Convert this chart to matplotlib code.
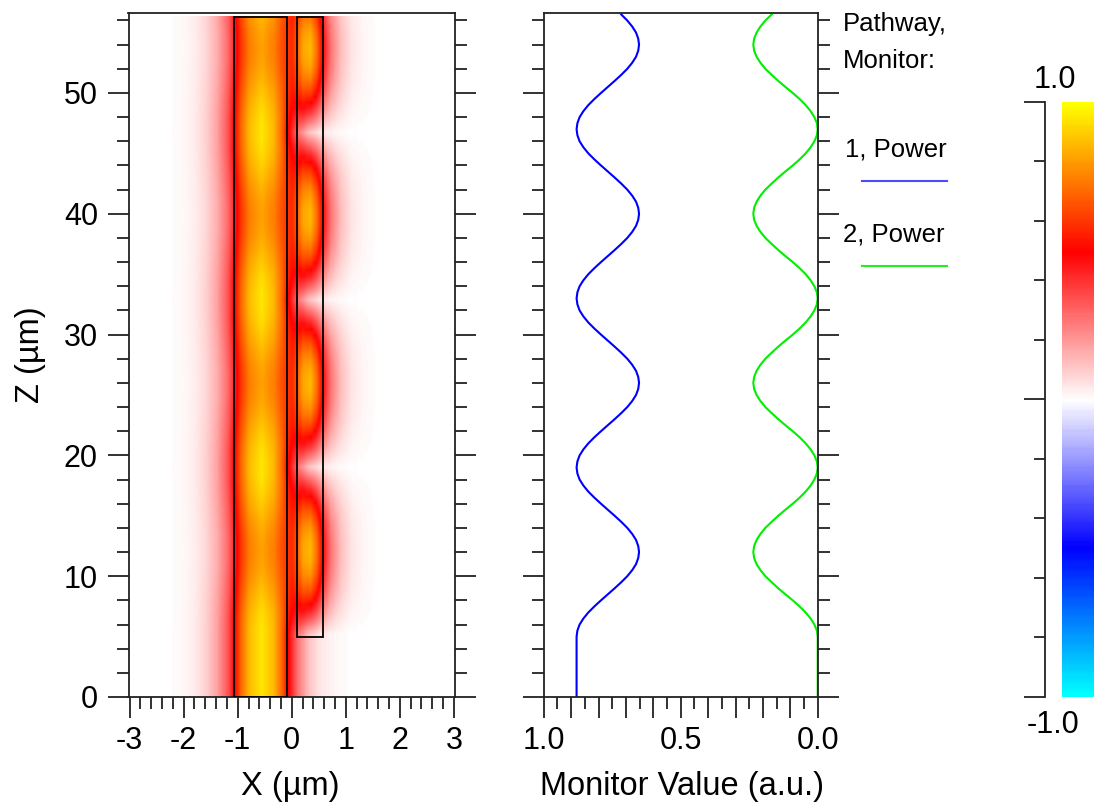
import numpy as np
import matplotlib
matplotlib.use("Agg")
import matplotlib.pyplot as plt
from matplotlib.colors import LinearSegmentedColormap
from matplotlib.ticker import MultipleLocator, FuncFormatter
from matplotlib.patches import Rectangle

plt.rcParams['font.family'] = ['Liberation Sans', 'DejaVu Sans']

# ---------------- data ----------------
# propagation positions (um), 0.5 um sampling
z_um = np.arange(0.0, 56.75, 0.5)

# Pathway 1 monitor (power in the lower/left guide)
monitor1_power = [
    0.880, 0.880, 0.880, 0.880, 0.880, 0.880, 0.880, 0.880, 0.880, 0.880,
    0.880, 0.877, 0.869, 0.855, 0.837, 0.815, 0.791, 0.766, 0.741, 0.717,
    0.695, 0.677, 0.663, 0.655, 0.652, 0.655, 0.663, 0.677, 0.695, 0.717,
    0.741, 0.766, 0.791, 0.815, 0.837, 0.855, 0.869, 0.877,
    0.880, 0.877, 0.869, 0.855, 0.837, 0.815, 0.791, 0.766, 0.741, 0.717,
    0.695, 0.677, 0.663, 0.655, 0.652, 0.655, 0.663, 0.677, 0.695, 0.717,
    0.741, 0.766, 0.791, 0.815, 0.837, 0.855, 0.869, 0.877,
    0.880, 0.877, 0.869, 0.855, 0.837, 0.815, 0.791, 0.766, 0.741, 0.717,
    0.695, 0.677, 0.663, 0.655, 0.652, 0.655, 0.663, 0.677, 0.695, 0.717,
    0.741, 0.766, 0.791, 0.815, 0.837, 0.855, 0.869, 0.877,
    0.880, 0.877, 0.869, 0.855, 0.837, 0.815, 0.791, 0.766, 0.741, 0.717,
    0.695, 0.677, 0.663, 0.655, 0.652, 0.655, 0.663, 0.677, 0.695, 0.717,
]

# Pathway 2 monitor (power in the coupled guide)
monitor2_power = [
    0.000, 0.000, 0.000, 0.000, 0.000, 0.000, 0.000, 0.000, 0.000, 0.000,
    0.000, 0.003, 0.012, 0.026, 0.044, 0.066, 0.091, 0.118, 0.144, 0.168,
    0.191, 0.209, 0.223, 0.232, 0.235, 0.232, 0.223, 0.209, 0.191, 0.168,
    0.144, 0.118, 0.091, 0.066, 0.044, 0.026, 0.012, 0.003,
    0.000, 0.003, 0.012, 0.026, 0.044, 0.066, 0.091, 0.118, 0.144, 0.168,
    0.191, 0.209, 0.223, 0.232, 0.235, 0.232, 0.223, 0.209, 0.191, 0.168,
    0.144, 0.118, 0.091, 0.066, 0.044, 0.026, 0.012, 0.003,
    0.000, 0.003, 0.012, 0.026, 0.044, 0.066, 0.091, 0.118, 0.144, 0.168,
    0.191, 0.209, 0.223, 0.232, 0.235, 0.232, 0.223, 0.209, 0.191, 0.168,
    0.144, 0.118, 0.091, 0.066, 0.044, 0.026, 0.012, 0.003,
    0.000, 0.003, 0.012, 0.026, 0.044, 0.066, 0.091, 0.118, 0.144, 0.168,
    0.191, 0.209, 0.223, 0.232, 0.235, 0.232, 0.223, 0.209, 0.191, 0.168,
]

# transverse field profiles of each guide
profile1_x = [-2.3, -2.0, -1.8, -1.6, -1.4, -1.2, -1.07, -0.95, -0.8, -0.57,
              -0.35, -0.2, -0.08, 0.1, 0.3, 0.5, 0.8, 1.1]
profile1_v = [0.0, 0.015, 0.04, 0.09, 0.18, 0.33, 0.50, 0.70, 0.86, 0.95,
              0.86, 0.70, 0.50, 0.27, 0.12, 0.05, 0.015, 0.0]
profile2_x = [-0.4, -0.2, 0.0, 0.09, 0.2, 0.33, 0.45, 0.57, 0.7, 0.9,
              1.1, 1.3, 1.5, 1.7]
profile2_v = [0.0, 0.05, 0.24, 0.44, 0.66, 0.77, 0.66, 0.44, 0.26, 0.12,
              0.05, 0.02, 0.005, 0.0]

# waveguide outlines: (x_left, x_right, z_start, z_end)
guide1 = (-1.07, -0.08, 0.0, 56.3)
guide2 = (0.09, 0.57, 5.0, 56.3)

legend_labels = ["Pathway,", "Monitor:", "1, Power", "2, Power"]
xticks_left = [-3, -2, -1, 0, 1, 2, 3]
cbar_labels = ["1.0", "-1.0"]

# ---------------- figure ----------------
W, H = 1094, 808
fig = plt.figure(figsize=(W / 100, H / 100), dpi=100)


def px_rect(x0, y0, x1, y1):
    return [x0 / W, 1 - y1 / H, (x1 - x0) / W, (y1 - y0) / H]


ZMAX = 56.62
spine_c = '#222222'
TICK_FS = 22

cmap = LinearSegmentedColormap.from_list(
    'field', [(0.0, '#00ffff'), (0.25, '#0000ff'), (0.5, '#ffffff'),
              (0.75, '#ff0000'), (1.0, '#ffff00')], N=255)

# ---- left panel: field map ----
ax1 = fig.add_axes(px_rect(128.5, 13, 455, 697))
x_grid = np.linspace(-3.02, 3.02, 500)
a1 = np.sqrt(np.array(monitor1_power) / max(monitor1_power))
a2 = np.sqrt(np.array(monitor2_power) / max(monitor2_power))
u1 = np.interp(x_grid, profile1_x, profile1_v, left=0, right=0)
u2 = np.interp(x_grid, profile2_x, profile2_v, left=0, right=0)
field = np.outer(a1, u1) + np.outer(a2, u2)
ax1.imshow(field, extent=[x_grid[0], x_grid[-1], z_um[0], guide1[3]],
           origin='lower', aspect='auto', cmap=cmap, vmin=-1, vmax=1,
           interpolation='bilinear')
for g in (guide1, guide2):
    ax1.add_patch(Rectangle((g[0], g[2]), g[1] - g[0], g[3] - g[2],
                            fill=False, ec='black', lw=1.3, zorder=3))
ax1.set_xlim(-3.02, 3.02)
ax1.set_ylim(0, ZMAX)
ax1.set_xticks(xticks_left)
ax1.set_xticklabels([str(v) for v in xticks_left])
ax1.xaxis.set_minor_locator(MultipleLocator(0.2))
ax1.yaxis.set_major_locator(MultipleLocator(10))
ax1.yaxis.set_minor_locator(MultipleLocator(2))
ax1.tick_params(axis='both', which='both', direction='out', color=spine_c,
                width=1.3, labelsize=TICK_FS)
ax1.tick_params(axis='both', which='major', length=15)
ax1.tick_params(axis='both', which='minor', length=8.5)
ax1.tick_params(axis='y', which='both', left=True, right=True,
                labelleft=True, labelright=False, pad=7)
ax1.tick_params(axis='x', which='both', top=False, bottom=True, pad=6)
for s in ax1.spines.values():
    s.set_color(spine_c)
    s.set_linewidth(1.3)

# ---- middle panel: monitor values ----
ax2 = fig.add_axes(px_rect(543.7, 13, 817.7, 697))
ax2.plot(monitor1_power, z_um, color='#0000ff', lw=1.5)
ax2.plot(monitor2_power, z_um, color='#00ee00', lw=1.5)
ax2.set_xlim(1.0, 0.0)
ax2.set_ylim(0, ZMAX)
ax2.xaxis.set_major_locator(MultipleLocator(0.1))
ax2.xaxis.set_minor_locator(MultipleLocator(0.05))
ax2.xaxis.set_major_formatter(FuncFormatter(
    lambda v, p: f"{abs(v):.1f}" if abs(round(v * 2) - v * 2) < 1e-6 else ""))
ax2.yaxis.set_major_locator(MultipleLocator(10))
ax2.yaxis.set_minor_locator(MultipleLocator(2))
ax2.tick_params(axis='both', which='both', direction='out', color=spine_c,
                width=1.3, labelsize=TICK_FS)
ax2.tick_params(axis='both', which='major', length=15)
ax2.tick_params(axis='both', which='minor', length=8.5)
ax2.tick_params(axis='y', which='both', left=True, right=True,
                labelleft=False, labelright=False)
ax2.tick_params(axis='x', which='both', top=False, bottom=True, pad=6)
for s in ax2.spines.values():
    s.set_color(spine_c)
    s.set_linewidth(1.3)

# ---- legend text ----
def ftext(x, y, s, **kw):
    fig.text(x / W, 1 - y / H, s, **kw)

LEG_FS = 18.5
ftext(843, 31.5, legend_labels[0], fontsize=LEG_FS, va='baseline', ha='left')
ftext(843, 68.5, legend_labels[1], fontsize=LEG_FS, va='baseline', ha='left')
ftext(845, 156.5, legend_labels[2], fontsize=LEG_FS, va='baseline', ha='left')
ftext(843, 241.5, legend_labels[3], fontsize=LEG_FS, va='baseline', ha='left')
fig.add_artist(plt.Line2D([861.5 / W, 946.5 / W], [1 - 180.7 / H, 1 - 180.7 / H],
                          color='#4a4aff', lw=1.5))
fig.add_artist(plt.Line2D([861.5 / W, 946.5 / W], [1 - 266 / H, 1 - 266 / H],
                          color='#22ee22', lw=1.5))

# ---- axis labels ----
LAB_FS = 23.5
ftext(290, 787, "X (\u00b5m)", fontsize=LAB_FS, ha='center', va='center')
ftext(682.5, 787, "Monitor Value (a.u.)", fontsize=LAB_FS, ha='center', va='center')
ftext(30, 355, "Z (\u00b5m)", fontsize=LAB_FS, ha='center', va='center',
      rotation=90)

# ---- colour bar ----
cax = fig.add_axes(px_rect(1062, 101.7, 1094, 697))
grad = np.linspace(-1, 1, 256).reshape(-1, 1)
cax.imshow(grad, extent=[0, 1, -1, 1], origin='lower', aspect='auto',
           cmap=cmap, vmin=-1, vmax=1)
cax.set_axis_off()

bax = fig.add_axes(px_rect(1045, 101.7, 1046, 697))
bax.set_ylim(-1, 1)
bax.patch.set_visible(False)
for k in ('top', 'right', 'bottom'):
    bax.spines[k].set_visible(False)
bax.spines['left'].set_color(spine_c)
bax.spines['left'].set_linewidth(1.3)
bax.set_xticks([])
bax.yaxis.set_major_locator(MultipleLocator(1.0))
bax.yaxis.set_minor_locator(MultipleLocator(0.2))
bax.tick_params(axis='y', which='both', direction='out', color=spine_c,
                width=1.3, labelleft=False)
bax.tick_params(axis='y', which='major', length=15)
bax.tick_params(axis='y', which='minor', length=8)
ftext(1054.5, 88, cbar_labels[0], fontsize=TICK_FS, ha='center', va='baseline')
ftext(1053, 733, cbar_labels[1], fontsize=TICK_FS, ha='center', va='baseline')

fig.savefig("out.png", dpi=100)
